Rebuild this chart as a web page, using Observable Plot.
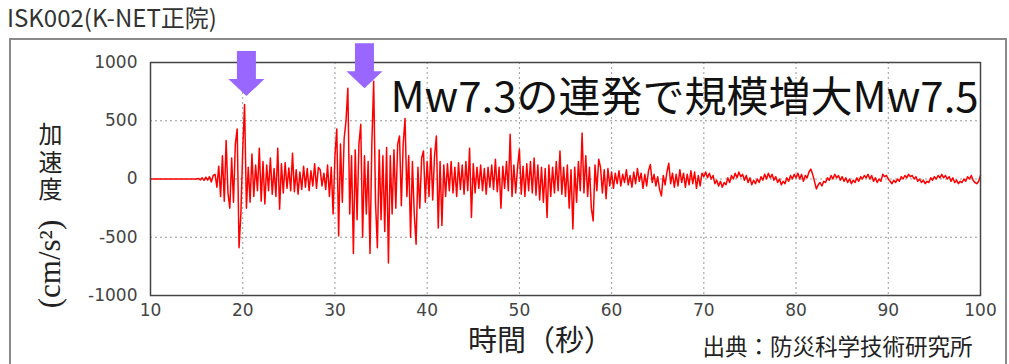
<!DOCTYPE html>
<html><head><meta charset="utf-8">
<script src="https://cdn.jsdelivr.net/npm/d3@7"></script>
<script src="https://cdn.jsdelivr.net/npm/@observablehq/plot@0.6"></script>
<style>
body{margin:0;width:1009px;height:364px;overflow:hidden;background:#fff;position:relative;font-family:"Noto Sans CJK JP",sans-serif}
#title{position:absolute;left:7px;top:2px;font-size:24px;color:#333;line-height:30px}
#box{position:absolute;left:9px;top:38px;width:994px;height:340px;border:2px solid #8a8a8a;border-bottom:none}
#chart{position:absolute;left:0;top:38px}
</style></head><body>
<div id="title">ISK002(K-NET正院)</div>
<div id="box"></div>
<div id="chart"></div>
<script>
// sampling grid of the record
const startTime = 15, sampleStep = 0.2;
// acceleration (cm/s²), one value per sample from 15 s to 100 s
const accel = [
  0, 5, -8, 10, -12, 15, -10, 20, -25, 30,
  40, -70, 110, -150, 200, -190, 330, -120, -250, 180,
  -200, 300, 430, -590, -300, 250, 640, -250, 100, -200,
  215, -150, 120, -100, 265, -190, 150, -215, 120, -100,
  180, -130, 90, -150, 265, -260, 130, -120, 140, -80,
  95, -100, 220, -110, 80, -130, 60, -90, 110, -70,
  90, -100, 70, -60, 130, -80, 100, 80, -60, 50,
  -90, 120, -150, 100, -300, 200, 430, -490, 300, -200,
  350, 500, 780, -300, 200, -640, 250, -350, 300, 470,
  -500, 200, -300, 150, -640, 300, 840, -200, -590, 250,
  -350, 200, -450, 270, -720, 200, -300, 250, -250, 300,
  370, -230, 300, 520, -150, 200, -500, 150, -300, -560,
  100, -250, 180, 240, -200, 150, -150, 265, -180, 200,
  370, -420, 150, -400, 120, -150, 130, -100, 150, -120,
  100, -150, 140, -90, 120, -130, 150, -100, 265, -330,
  130, -120, 100, -80, 120, -100, 90, -130, 100, -70,
  120, -90, 170, -110, 100, -250, 110, -80, 150, -100,
  385, -150, 120, -120, 100, 255, -130, 110, -150, 130,
  -100, 150, -120, 180, -140, 120, -180, 100, -200, 90,
  -330, 120, -150, 100, -120, 150, -100, 240, -130, 100,
  -150, 120, -250, 80, -430, 100, -200, 150, -100, 395,
  -120, 200, -150, 100, -250, -360, 120, -100, 170, 100,
  -120, 80, -170, 90, -60,
  60, -80, 50, -40, 70, -60, 40, -30, 80, -50,
  30, -70, 60, -40, 90, -20, 50, -80, 40, -60,
  70, 125, -30, 40, -60, 20, -90, -145, 30, -50,
  60, 135, -40, 50, -70, 40, -60, 80, -30, 50,
  -70, 40, -50, 70, -40, 60, -80, 30, -60, 50,
  20, 60, 10, 50, 0, 30, -40, -10, -60, -20,
  -70, -30, -50, 10, -30, 30, 0, 50, 10, 60,
  20, 40, -10, 30, -30, 10, -50, -10, -40, 0,
  -30, 20, -10, 40, 0, 50, 10, 40, -10, 20,
  -30, 0, -50, -20, -40, 10, -20, 30, 0, 40,
  10, 50, 0, 40, -20, 30, 10, 60, 85, 40,
  -20, -85, -50, -30, -60, -20, -30, 10, -10, 30,
  0, 40, 10, 30, -10, 20, -20, 10, -30, 0,
  -40, -10, -30, 10, -20, 20, 0, 30, 10, 40,
  0, 30, -20, 10, -30, 0, -20, 40, 20, 30,
  0, -20, -40, -10, -30, 0, -20, 20, 0, 30,
  10, 40, 20, 30, 0, 20, -20, 0, -30, -10,
  -40, -20, -30, 10, -10, 20, 0, 30, 10, 40,
  10, 30, 0, 20, -20, 10, -30, -10, -40, -20,
  -30, 0, -20, 20, 0, 30, -10, -30, -40, -20,
  30
];
const xTicks = [10, 20, 30, 40, 50, 60, 70, 80, 90, 100];
const yTicks = [-1000, -500, 0, 500, 1000];
const arrowTimes = [20.4, 33.2];
const arrowAccel = [712, 780];
const annotation = "Mw7.3の連発で規模増大Mw7.5";
const yLabelTop = "加\n速\n度";
const yLabelUnit = "(cm/s²)";
const xLabel = "時間（秒）";
const source = "出典：防災科学技術研究所";

const series = [{t: 10, a: 0}].concat(accel.map((a, i) => ({t: startTime + i * sampleStep, a})));
const arrows = arrowTimes.map((t, i) => ({t, a: arrowAccel[i]}));

const blockArrow = {
  draw(ctx) {
    ctx.moveTo(0, 0);
    ctx.lineTo(-18, -17);
    ctx.lineTo(-9.5, -17);
    ctx.lineTo(-9.5, -45);
    ctx.lineTo(9.5, -45);
    ctx.lineTo(9.5, -17);
    ctx.lineTo(18, -17);
    ctx.closePath();
  }
};

const chart = Plot.plot({
  width: 1009,
  height: 326,
  marginTop: 24,
  marginBottom: 69,
  marginLeft: 150,
  marginRight: 29,
  style: {fontFamily: "DejaVu Sans", fontSize: "17px", color: "#444", background: "transparent"},
  x: {domain: [10, 100]},
  y: {domain: [-1000, 1000]},
  marks: [
    Plot.gridX(xTicks, {stroke: "#999", strokeOpacity: 1, strokeDasharray: "2,3"}),
    Plot.gridY(yTicks, {stroke: "#999", strokeOpacity: 1, strokeDasharray: "2,3"}),
    Plot.line(series, {x: "t", y: "a", stroke: "#ff0000", strokeWidth: 1.5}),
    Plot.frame({stroke: "#444", strokeWidth: 1.5}),
    Plot.axisY(yTicks, {tickSize: 0, tickPadding: 13, label: null, tickFormat: d => String(d)}),
    Plot.axisX(xTicks, {tickSize: 0, tickPadding: 8, label: null, tickFormat: d => String(d)}),
    Plot.text([annotation], {frameAnchor: "top-left", text: d => d, textAnchor: "start", lineAnchor: "top",
      dx: 240, dy: 20, fontSize: 42, fontFamily: "Noto Sans CJK JP", fill: "#111"}),
    Plot.dot(arrows, {x: "t", y: "a", symbol: blockArrow, r: 10, fill: "#9966ff", stroke: "none"}),
    Plot.text([yLabelTop], {frameAnchor: "left", text: d => d, textAnchor: "middle", lineAnchor: "middle",
      dx: -100, dy: -17, fontSize: 24, lineHeight: 1.15, fontFamily: "Noto Sans CJK JP", fill: "#222"}),
    Plot.text([yLabelUnit], {frameAnchor: "left", text: d => d, textAnchor: "middle", lineAnchor: "middle",
      dx: -100, dy: 85, rotate: -90, fontSize: 31, fontFamily: "Liberation Serif", fill: "#222"}),
    Plot.text([xLabel], {frameAnchor: "bottom", text: d => d, textAnchor: "middle", lineAnchor: "middle",
      dx: -25, dy: 46, fontSize: 29, fontFamily: "Noto Sans CJK JP", fill: "#222"}),
    Plot.text([source], {frameAnchor: "bottom-right", text: d => d, textAnchor: "end", lineAnchor: "middle",
      dx: -8, dy: 52, fontSize: 22.5, fontFamily: "Noto Sans CJK JP", fill: "#222"})
  ]
});
document.getElementById("chart").appendChild(chart);
</script>
</body></html>
